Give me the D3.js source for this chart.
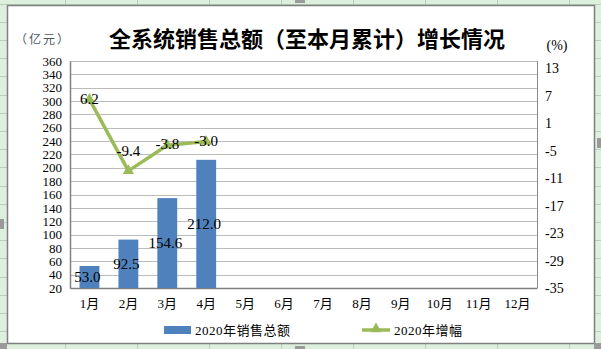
<!DOCTYPE html>
<html><head><meta charset="utf-8">
<script src="https://cdn.jsdelivr.net/npm/d3@7"></script>
<style>
html,body{margin:0;padding:0;background:#fff;}
svg{display:block;}
</style></head>
<body>
<svg id="c" width="601" height="349"></svg>
<script>
const months = ["1月","2月","3月","4月","5月","6月","7月","8月","9月","10月","11月","12月"];
const salesTotal = [53.0, 92.5, 154.6, 212.0];
const growthRate = [6.2, -9.4, -3.8, -3.0];
const leftTicks = [20,40,60,80,100,120,140,160,180,200,220,240,260,280,300,320,340,360];
const rightTicks = [13,7,1,-5,-11,-17,-23,-29,-35];
const title = "全系统销售总额（至本月累计）增长情况";
const seriesNames = ["2020年销售总额","2020年增幅"];

const loc = d3.formatLocale({decimal:".", thousands:",", grouping:[3], currency:["",""], minus:"-"});
const f1 = loc.format(".1f"), f0 = loc.format("d");

const svg = d3.select("#c");
const W = 601, H = 349;
const serif = "'Liberation Serif','Times New Roman','Noto Sans CJK SC',serif";
const cjk = "'Noto Sans CJK SC','Liberation Serif',sans-serif";

// Spreadsheet background
svg.append("rect").attr("width",W).attr("height",H).attr("fill","#ddefdd");
const colX = d3.range(-7, W, 72);
svg.selectAll(".vc").data(colX).join("line")
  .attr("x1",d=>d+0.5).attr("x2",d=>d+0.5).attr("y1",0).attr("y2",H)
  .attr("stroke","#b9cfb9").attr("stroke-width",1);
svg.selectAll(".hr").data(d3.range(3.5, H, 18.2)).join("line")
  .attr("x1",0).attr("x2",W).attr("y1",d=>Math.round(d)+0.5).attr("y2",d=>Math.round(d)+0.5)
  .attr("stroke","#b9cfb9").attr("stroke-width",1);

// Chart area
svg.append("rect").attr("x",7.5).attr("y",5.5).attr("width",587).attr("height",338)
  .attr("fill","#fff").attr("stroke","#7f7f7f").attr("stroke-width",1.5);
// selection handles
[[0,343],[594,343]].forEach(p=>svg.append("rect").attr("x",p[0]).attr("y",p[1]).attr("width",7).attr("height",6).attr("fill","#9a9a9a"));
svg.append("rect").attr("x",295).attr("y",346).attr("width",10).attr("height",3).attr("fill","#9a9a9a");
svg.append("rect").attr("x",295).attr("y",0).attr("width",10).attr("height",3).attr("fill","#9a9a9a");
svg.append("rect").attr("x",0).attr("y",219).attr("width",4).attr("height",10).attr("fill","#9a9a9a");
svg.append("rect").attr("x",597).attr("y",138).attr("width",4).attr("height",10).attr("fill","#9a9a9a");

// Plot area
const px0 = 70, px1 = 537, py0 = 61, py1 = 288;
const x = d3.scaleBand().domain(months).range([px0, px1]).paddingInner(0.49).paddingOuter(0.245);
const xc = d3.scaleBand().domain(months).range([px0, px1]);
const yL = d3.scaleLinear().domain([20,360]).range([py1, py0]);
const yR = d3.scaleLinear().domain([-35,14.6]).range([py1, py0]);

// gridlines
svg.append("g").selectAll("line").data(leftTicks).join("line")
  .attr("x1",px0).attr("x2",px1)
  .attr("y1",d=>Math.round(yL(d))+0.5).attr("y2",d=>Math.round(yL(d))+0.5)
  .attr("stroke","#bcbcbc").attr("stroke-width",1);
svg.append("line").attr("x1",px1+0.5).attr("x2",px1+0.5).attr("y1",py0).attr("y2",py1)
  .attr("stroke","#8c8c8c");

// left axis
const gL = svg.append("g").attr("transform",`translate(${px0},0)`)
  .call(d3.axisLeft(yL).tickValues(leftTicks).tickSize(0).tickPadding(8));
gL.select(".domain").attr("stroke","#808080").attr("stroke-width",1.5);
gL.selectAll("text").attr("font-family",serif).attr("font-size",13).attr("fill","#000");

// right axis labels
const gR = svg.append("g").attr("transform",`translate(${px1},0)`)
  .call(d3.axisRight(yR).tickValues(rightTicks).tickSize(0).tickPadding(8).tickFormat(f0));
gR.select(".domain").remove();
gR.selectAll("text").attr("font-family",serif).attr("font-size",14).attr("fill","#000");

// bottom axis
const gB = svg.append("g").attr("transform",`translate(0,${py1})`)
  .call(d3.axisBottom(xc).tickSize(0).tickPadding(11));
gB.select(".domain").attr("stroke","#808080").attr("stroke-width",1.5);
gB.selectAll("text").attr("font-family",serif).attr("font-size",13).attr("fill","#000");

// bars
svg.append("g").selectAll("rect").data(salesTotal).join("rect")
  .attr("x",(d,i)=>x(months[i])).attr("width",x.bandwidth())
  .attr("y",d=>yL(d)).attr("height",d=>py1-yL(d))
  .attr("fill","#4f81bd");
svg.append("g").selectAll("text").data(salesTotal).join("text")
  .attr("x",(d,i)=>xc(months[i])+xc.bandwidth()/2 - 2)
  .attr("y",d=>(yL(d)+py1)/2)
  .attr("dy","0.35em").attr("text-anchor","middle")
  .attr("font-family",serif).attr("font-size",15).attr("fill","#000")
  .text(d=>f1(d));

// line
const lx = (d,i)=>xc(months[i])+xc.bandwidth()/2;
const line = d3.line().x(lx).y(d=>yR(d));
svg.append("path").datum(growthRate).attr("d",line)
  .attr("fill","none").attr("stroke","#9bbb59").attr("stroke-width",3.5).attr("stroke-linejoin","round");
const tri = d3.symbol().type(d3.symbolTriangle).size(55);
svg.append("g").selectAll("path").data(growthRate).join("path")
  .attr("d",tri).attr("transform",(d,i)=>`translate(${lx(d,i)},${yR(d)})`)
  .attr("fill","#9bbb59");
svg.append("g").selectAll("text").data(growthRate).join("text")
  .attr("x",(d,i)=>lx(d,i))
  .attr("y",(d,i)=>yR(d) + (i===1 ? -20 : -1))
  .attr("dy","0.35em").attr("text-anchor","middle")
  .attr("font-family",serif).attr("font-size",15).attr("fill","#000")
  .text(d=>f1(d));

// title
svg.append("text").attr("x",307).attr("y",39).attr("dy","0.35em").attr("text-anchor","middle")
  .attr("font-family",cjk).attr("font-weight","bold").attr("font-size",22).attr("fill","#000")
  .text(title);
// units
svg.append("text").attr("x",43).attr("y",40).attr("dy","0.35em").attr("text-anchor","middle")
  .attr("font-family",cjk).attr("font-size",12).attr("letter-spacing",2).attr("fill","#4a5563")
  .text("（亿元）");
svg.append("text").attr("x",557).attr("y",45).attr("dy","0.35em").attr("text-anchor","middle")
  .attr("font-family",serif).attr("font-size",14).attr("fill","#000")
  .text("(%)");

// legend
const lg = svg.append("g");
lg.append("rect").attr("x",164).attr("y",326).attr("width",27).attr("height",8).attr("fill","#4f81bd");
lg.append("text").attr("x",195).attr("y",330).attr("dy","0.35em")
  .attr("font-family",serif).attr("font-size",13).attr("letter-spacing",0.5).attr("fill","#000").text(seriesNames[0]);
lg.append("line").attr("x1",362).attr("x2",390).attr("y1",330).attr("y2",330)
  .attr("stroke","#9bbb59").attr("stroke-width",3.5);
lg.append("path").attr("d",tri).attr("transform","translate(376,329)").attr("fill","#9bbb59");
lg.append("text").attr("x",394).attr("y",330).attr("dy","0.35em")
  .attr("font-family",serif).attr("font-size",13).attr("letter-spacing",0.5).attr("fill","#000").text(seriesNames[1]);
</script>
</body></html>
